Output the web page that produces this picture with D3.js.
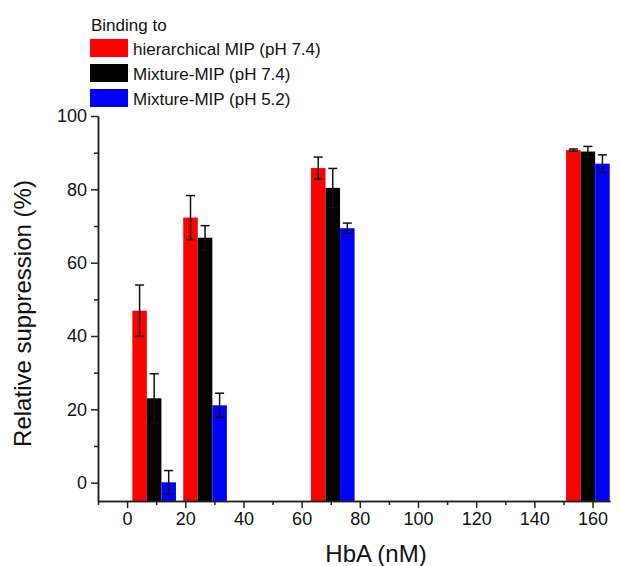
<!DOCTYPE html>
<html><head><meta charset="utf-8">
<script src="https://cdn.jsdelivr.net/npm/d3@7"></script>
<style>
body{margin:0;background:#fff;}
svg{display:block;font-family:"Liberation Sans",Arial,sans-serif;}
</style></head>
<body><svg id="c" width="620" height="566"></svg>
<script>
const concentrations = [9.3, 26.8, 70.7, 158.4];
const seriesNames = ["hierarchical MIP (pH 7.4)", "Mixture-MIP (pH 7.4)", "Mixture-MIP (pH 5.2)"];
const seriesColors = ["#ff0000", "#000000", "#0000ff"];
const hierValues = [46.9, 72.3, 85.8, 90.7];
const hierErrors = [7.0, 6.0, 3.0, 0.3];
const mix74Values = [23.0, 66.8, 80.4, 90.3];
const mix74Errors = [6.7, 3.3, 5.3, 1.4];
const mix52Values = [0.1, 21.1, 69.4, 87.0];
const mix52Errors = [3.2, 3.3, 1.4, 2.4];
const xTicks = [0, 20, 40, 60, 80, 100, 120, 140, 160];
const xMinor = [-10, 10, 30, 50, 70, 90, 110, 130, 150];
const yTicks = [0, 20, 40, 60, 80, 100];
const yMinor = [10, 30, 50, 70, 90];
const legendTitle = "Binding to";
const xTitle = "HbA (nM)";
const yTitle = "Relative suppression (%)";

const values = [hierValues, mix74Values, mix52Values];
const errors = [hierErrors, mix74Errors, mix52Errors];
const barWidth = 5;
const offsets = [-5, 0, 5];

const svg = d3.select("#c");
const x = d3.scaleLinear().domain([-10, 166]).range([98, 610]);
const y = d3.scaleLinear().domain([-5, 100]).range([501, 116]);

// bars (drawn from the bottom of the axis, as in the original)
const bars = [];
values.forEach((vals, s) => vals.forEach((v, i) => bars.push({s, x: concentrations[i] + offsets[s], v, e: errors[s][i]})));
svg.append("g").selectAll("rect").data(bars).join("rect")
  .attr("x", d => x(d.x - barWidth / 2))
  .attr("width", d => x(d.x + barWidth / 2) - x(d.x - barWidth / 2))
  .attr("y", d => y(d.v))
  .attr("height", d => y(-5) - y(d.v))
  .attr("fill", d => seriesColors[d.s]);

// error bars
const eg = svg.append("g").attr("stroke", "#111").attr("stroke-width", 1.5).attr("fill", "none");
bars.forEach(d => {
  const cx = x(d.x);
  eg.append("line").attr("x1", cx).attr("x2", cx).attr("y1", y(d.v + d.e)).attr("y2", y(d.v - d.e));
  [d.v + d.e, d.v - d.e].forEach(t => eg.append("line").attr("x1", cx - 4.5).attr("x2", cx + 4.5).attr("y1", y(t)).attr("y2", y(t)));
});

// axes
const axColor = "#222";
const gx = svg.append("g").attr("transform", `translate(0,${y(-5)})`)
  .call(d3.axisBottom(x).tickValues(xTicks).tickSize(7).tickSizeOuter(0).tickPadding(4));
const gxm = svg.append("g").attr("transform", `translate(0,${y(-5)})`)
  .call(d3.axisBottom(x).tickValues(xMinor).tickSize(4).tickFormat("").tickSizeOuter(0));
const gy = svg.append("g").attr("transform", `translate(${x(-10)},0)`)
  .call(d3.axisLeft(y).tickValues(yTicks).tickSize(7).tickSizeOuter(0).tickPadding(4));
const gym = svg.append("g").attr("transform", `translate(${x(-10)},0)`)
  .call(d3.axisLeft(y).tickValues(yMinor).tickSize(4).tickFormat("").tickSizeOuter(0));
[gx, gxm, gy, gym].forEach(g => {
  g.selectAll("path").attr("stroke", axColor).attr("stroke-width", 1.5);
  g.selectAll("line").attr("stroke", axColor).attr("stroke-width", 1.5);
  g.selectAll("text").attr("fill", "#111").style("font-size", "18px").style("font-family", "'Liberation Sans',Arial,sans-serif");
});

// axis titles
svg.append("text").attr("x", 376).attr("y", 562).attr("text-anchor", "middle")
  .style("font-size", "24px").attr("fill", "#111").text(xTitle);
svg.append("text").attr("transform", `translate(31,${(116 + 501) / 2 + 5}) rotate(-90)`).attr("text-anchor", "middle")
  .style("font-size", "24px").attr("fill", "#111").text(yTitle);

// legend
const lg = svg.append("g");
lg.append("text").attr("x", 91).attr("y", 31).style("font-size", "17px").attr("fill", "#111").text(legendTitle);
seriesNames.forEach((n, i) => {
  lg.append("rect").attr("x", 90).attr("y", 39 + i * 25).attr("width", 38).attr("height", 18).attr("fill", seriesColors[i]);
  lg.append("text").attr("x", 133).attr("y", 55 + i * 25).style("font-size", "17px").attr("fill", "#111").text(n);
});
</script></body></html>
